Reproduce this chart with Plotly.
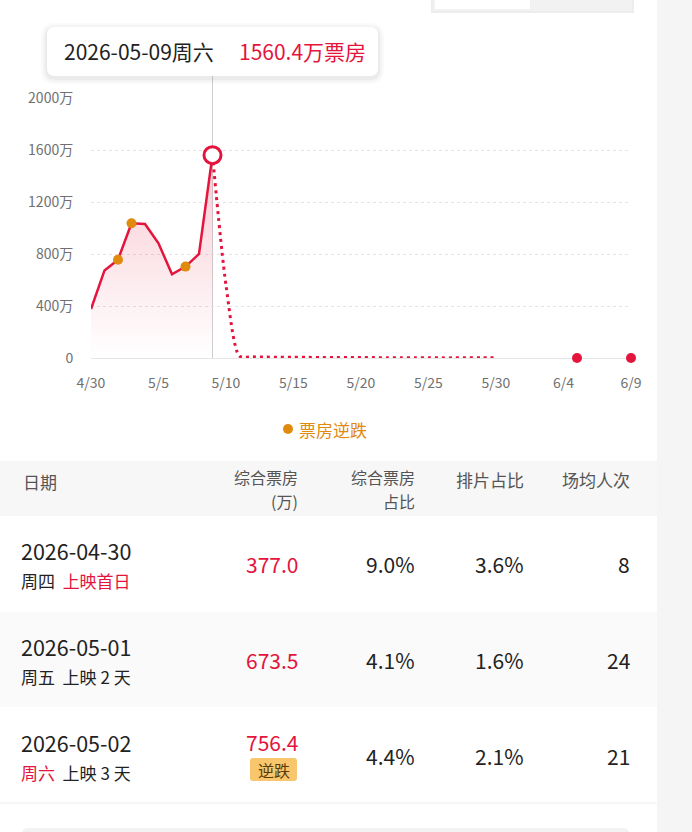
import plotly.graph_objects as go

W, H = 692, 832
def PX(x): return x / W
def PY(y): return 1 - y / H

RED = "#E4143C"
ORANGE = "#E08A0E"
DARK = "#222222"
GRAY = "#707070"
FONT = "Noto Sans CJK SC"

# ---------------- data ----------------
dates_actual = ["2026-04-30", "2026-05-01", "2026-05-02", "2026-05-03", "2026-05-04",
                "2026-05-05", "2026-05-06", "2026-05-07", "2026-05-08", "2026-05-09"]
box_actual = [377.0, 673.5, 756.4, 1036, 1031, 882, 644, 703, 800, 1560.4]

dates_forecast = ["2026-05-09", "2026-05-10", "2026-05-11", "2026-05-12", "2026-05-13",
                  "2026-05-14", "2026-05-15", "2026-05-16", "2026-05-17", "2026-05-18",
                  "2026-05-19", "2026-05-20", "2026-05-21", "2026-05-22", "2026-05-23",
                  "2026-05-24", "2026-05-25", "2026-05-26", "2026-05-27", "2026-05-28",
                  "2026-05-29", "2026-05-30"]
box_forecast = [1560.4, 560, 14, 9, 7, 6, 5, 5, 4, 4, 3, 3, 3, 2, 2, 2, 2, 1, 1, 1, 1, 1]

dates_future = ["2026-06-05", "2026-06-09"]
box_future = [0, 0]

dates_drop = ["2026-05-02", "2026-05-03", "2026-05-07"]
box_drop = [756.4, 1036, 703]

highlight_date = "2026-05-09"
highlight_value = 1560.4
highlight_label = "2026-05-09周六"

x_tickvals = ["2026-04-30", "2026-05-05", "2026-05-10", "2026-05-15", "2026-05-20",
              "2026-05-25", "2026-05-30", "2026-06-04", "2026-06-09"]
x_ticktext = ["4/30", "5/5", "5/10", "5/15", "5/20", "5/25", "5/30", "6/4", "6/9"]
y_tickvals = [0, 400, 800, 1200, 1600, 2000]
y_ticktext = ["0", "400万", "800万", "1200万", "1600万", "2000万"]

legend_label = "票房逆跌"

table_header = ["日期", "综合票房", "综合票房", "排片占比", "场均人次"]
table_header2 = ["", "(万)", "占比", "", ""]
row_dates = ["2026-04-30", "2026-05-01", "2026-05-02"]
row_weekday = ["周四", "周五", "周六"]
row_days = ["上映首日", "上映\u00a02\u00a0天", "上映\u00a03\u00a0天"]
row_box = ["377.0", "673.5", "756.4"]
row_box_share = ["9.0%", "4.1%", "4.4%"]
row_screen_share = ["3.6%", "1.6%", "2.1%"]
row_avg_people = ["8", "24", "21"]
row_badge = ["", "", "逆跌"]

fig = go.Figure()

fig.add_trace(go.Scatter(
    x=dates_actual, y=box_actual, mode="lines",
    line=dict(color=RED, width=2.5),
    fill="tozeroy",
    fillgradient=dict(type="vertical",
                      colorscale=[[0, "rgba(228,20,60,0.0)"], [1, "rgba(228,20,60,0.2)"]],
                      start=0, stop=1400),
    cliponaxis=False, hoverinfo="skip", showlegend=False))

fig.add_trace(go.Scatter(
    x=dates_forecast, y=box_forecast, mode="lines",
    line=dict(color=RED, width=3, dash="3px,4px", shape="spline", smoothing=0.7),
    cliponaxis=False, hoverinfo="skip", showlegend=False))

fig.add_trace(go.Scatter(
    x=dates_future, y=box_future, mode="markers",
    marker=dict(color=RED, size=10),
    cliponaxis=False, hoverinfo="skip", showlegend=False))

fig.add_trace(go.Scatter(
    x=dates_drop, y=box_drop, mode="markers", name=legend_label,
    marker=dict(color=ORANGE, size=10),
    cliponaxis=False, hoverinfo="skip", showlegend=False))

fig.add_trace(go.Scatter(
    x=[highlight_date], y=[highlight_value], mode="markers",
    marker=dict(color="white", size=17, line=dict(color=RED, width=3)),
    cliponaxis=False, hoverinfo="skip", showlegend=False))

shapes = []
annotations = []

def rrect(x0, y0, x1, y1, r):
    return (f"M {PX(x0+r)},{PY(y0)} L {PX(x1-r)},{PY(y0)} Q {PX(x1)},{PY(y0)} {PX(x1)},{PY(y0+r)} "
            f"L {PX(x1)},{PY(y1-r)} Q {PX(x1)},{PY(y1)} {PX(x1-r)},{PY(y1)} "
            f"L {PX(x0+r)},{PY(y1)} Q {PX(x0)},{PY(y1)} {PX(x0)},{PY(y1-r)} "
            f"L {PX(x0)},{PY(y0+r)} Q {PX(x0)},{PY(y0)} {PX(x0+r)},{PY(y0)} Z")

def rect(x0, y0, x1, y1, color, layer="below"):
    shapes.append(dict(type="rect", xref="paper", yref="paper",
                       x0=PX(x0), x1=PX(x1), y0=PY(y1), y1=PY(y0),
                       fillcolor=color, line=dict(width=0), layer=layer))

# right strip
rect(657, 0, 692, 832, "#F5F5F5")

# toggle at top right (cut by the top edge)
rect(431, 0, 634, 13, "#EDEDED")
rect(433, 0, 632, 11, "#F2F2F2")
rect(435, 0, 530, 9, "#FFFFFF")

# crosshair
shapes.append(dict(type="line", xref="x", yref="paper", x0=highlight_date, x1=highlight_date,
                   y0=PY(358), y1=PY(76), line=dict(color="#CFCFCF", width=1), layer="below"))

# tooltip with soft shadow
for i, a in enumerate([0.02, 0.025, 0.035]):
    d = 6 - 2 * i
    shapes.append(dict(type="path", xref="paper", yref="paper",
                       path=rrect(47 - d, 27 - d + 2, 378 + d, 76 + d + 2, 8 + d),
                       fillcolor=f"rgba(0,0,0,{a})", line=dict(width=0), layer="above"))
shapes.append(dict(type="path", xref="paper", yref="paper", path=rrect(47, 27, 378, 76, 8),
                   fillcolor="#FFFFFF", line=dict(width=0), layer="above"))

def txt(x, y, s, size, color, anchor="left", align="left"):
    annotations.append(dict(xref="paper", yref="paper", x=PX(x), y=PY(y), xanchor=anchor, yanchor="middle",
                            text=s, showarrow=False, align=align,
                            font=dict(family=FONT, size=size, color=color)))

txt(62, 51, highlight_label, 21, DARK)
txt(237, 51, f"{highlight_value:.1f}万票房", 21, RED)

# legend
shapes.append(dict(type="circle", xref="paper", yref="paper",
                   x0=PX(283), x1=PX(293), y0=PY(434), y1=PY(424),
                   fillcolor=ORANGE, line=dict(width=0)))
txt(297, 429, legend_label, 17, ORANGE)

# table backgrounds
rect(0, 461, 657, 516, "#F7F7F7")
rect(0, 612, 657, 707, "#FAFAFA")
rect(0, 802.5, 657, 803.5, "#EDEDED")
shapes.append(dict(type="path", xref="paper", yref="paper", path=rrect(22, 828, 629, 850, 6),
                   fillcolor="#F2F2F2", line=dict(width=0), layer="below"))

HEAD = "#555555"
col_right = [None, 300, 417, 526, 632]
txt(21, 481, table_header[0], 17, HEAD)
for i in range(1, 5):
    if table_header2[i]:
        txt(col_right[i], 477, table_header[i], 16, HEAD, "right")
        txt(col_right[i], 501, table_header2[i], 16, HEAD, "right")
    else:
        txt(col_right[i], 479, table_header[i], 17, HEAD, "right")

row_centers = [564, 660, 756]
for r in range(3):
    c = row_centers[r]
    txt(19, c - 14, row_dates[r], 21.5, DARK)
    if r == 0:
        sub = f"{row_weekday[r]}\u00a0\u00a0<span style='color:{RED}'>{row_days[r]}</span>"
    elif r == 2:
        sub = f"<span style='color:{RED}'>{row_weekday[r]}</span>\u00a0\u00a0{row_days[r]}"
    else:
        sub = f"{row_weekday[r]}\u00a0\u00a0{row_days[r]}"
    txt(19, c + 16, sub, 17, DARK)
    if row_badge[r]:
        txt(300, c - 14, row_box[r], 21, RED, "right")
        shapes.append(dict(type="path", xref="paper", yref="paper", path=rrect(250, 758, 297, 781, 3),
                           fillcolor="#F8C76D", line=dict(width=0), layer="below"))
        annotations.append(dict(xref="paper", yref="paper", x=PX(273.5), y=PY(769.5), xanchor="center",
                                yanchor="middle", text=row_badge[r], showarrow=False,
                                font=dict(family=FONT, size=16, color="#5A3A06")))
    else:
        txt(300, c, row_box[r], 21, RED, "right")
    txt(417, c, row_box_share[r], 21, DARK, "right")
    txt(526, c, row_screen_share[r], 21, DARK, "right")
    txt(632, c, row_avg_people[r], 21, DARK, "right")

fig.update_layout(
    width=W, height=H, margin=dict(l=0, r=0, t=0, b=0, pad=0, autoexpand=False),
    paper_bgcolor="#FFFFFF", plot_bgcolor="rgba(0,0,0,0)",
    font=dict(family=FONT),
    shapes=shapes, annotations=annotations,
    xaxis=dict(domain=[PX(91), PX(631)], range=["2026-04-30", "2026-06-09"], type="date",
               tickvals=x_tickvals, ticktext=x_ticktext, showgrid=False, zeroline=False,
               showline=False, ticks="outside", ticklen=12, tickcolor="rgba(0,0,0,0)",
               automargin=False,
               tickfont=dict(family=FONT, size=14, color=GRAY), fixedrange=True),
    yaxis=dict(domain=[PY(358), PY(98)], range=[0, 2000], tickvals=y_tickvals, ticktext=y_ticktext,
               showgrid=True, gridcolor="#E3E3E3", griddash="dot", gridwidth=1,
               zeroline=True, zerolinecolor="#E6E6E6", zerolinewidth=1, showline=False,
               ticks="outside", ticklen=14, tickcolor="rgba(0,0,0,0)", automargin=False,
               tickfont=dict(family=FONT, size=14, color=GRAY), fixedrange=True),
    showlegend=False,
)

fig.write_html("out.html", config={"displayModeBar": False},
               post_script="document.body.style.margin='0';document.body.style.overflow='hidden';")
